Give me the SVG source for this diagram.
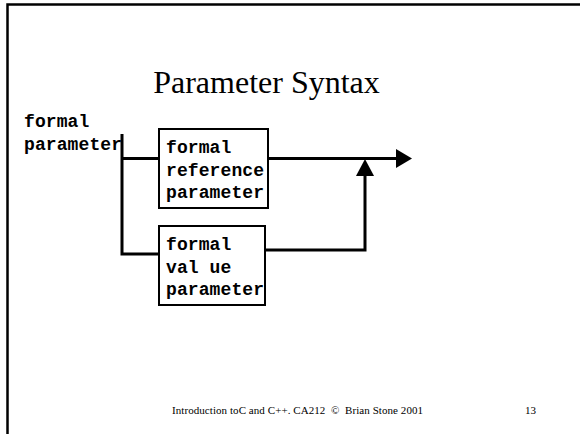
<svg xmlns="http://www.w3.org/2000/svg" width="580" height="434" viewBox="0 0 580 434">
<defs>
<style>
.frame{fill:none;stroke:#000;stroke-width:2.5}
.box{fill:#fff;stroke:#000;stroke-width:2}
.wire{fill:none;stroke:#000;stroke-width:3}
.mono{font-family:"Liberation Mono","DejaVu Sans Mono",monospace;font-weight:bold;font-size:18px;letter-spacing:0.1px;fill:#000}
.title{font-family:"Liberation Serif","Times New Roman",serif;font-size:32px;fill:#000}
.foot{font-family:"Liberation Serif","Times New Roman",serif;font-size:11px;fill:#000}
</style>
</defs>
<rect width="580" height="434" fill="#fff"/>
<path class="frame" d="M7.5,434 V4.5 H580"/>
<text class="title" x="266.5" y="93" text-anchor="middle">Parameter Syntax</text>
<g id="label-formal-parameter">
<text class="mono" x="24" y="127">formal</text>
<text class="mono" x="24" y="150">parameter</text>
</g>
<g id="connectors">
<path class="wire" d="M122,134 V254 H159"/>
<path class="wire" d="M122,158.5 H159"/>
<path class="wire" d="M268,158.5 H398"/>
<polygon points="396,149 412,158.5 396,168" fill="#000"/>
<path class="wire" d="M265,250 H365 V174"/>
<polygon points="356,176 365,159 374,176" fill="#000"/>
</g>
<g id="node-reference">
<rect class="box" x="159" y="129" width="109" height="79"/>
<text class="mono" x="166" y="153">formal</text>
<text class="mono" x="166" y="175.5">reference</text>
<text class="mono" x="166" y="198">parameter</text>
</g>
<g id="node-value">
<rect class="box" x="159" y="226" width="106" height="79"/>
<text class="mono" x="166" y="250">formal</text>
<text class="mono" x="166" y="272.5">val ue</text>
<text class="mono" x="166" y="295">parameter</text>
</g>
<text class="foot" x="172" y="414" xml:space="preserve" textLength="251">Introduction toC and C++. CA212  ©  Brian Stone 2001</text>
<text class="foot" x="525" y="414">13</text>
</svg>
